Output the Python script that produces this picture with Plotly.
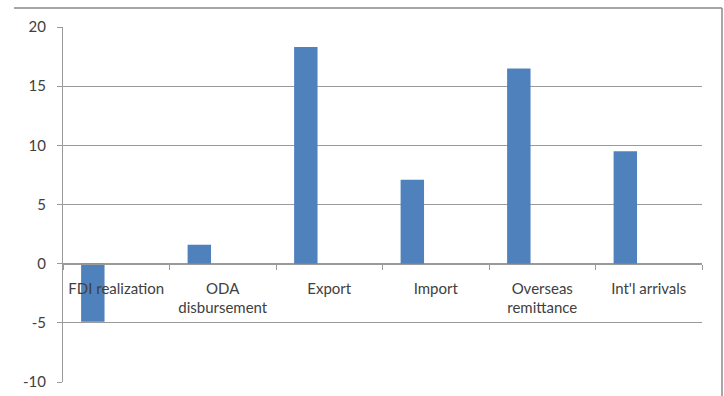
import plotly.graph_objects as go

categories = ["FDI realization", "ODA<br>disbursement", "Export", "Import",
              "Overseas<br>remittance", "Int'l arrivals"]
values = [-4.9, 1.6, 18.3, 7.1, 16.5, 9.5]
y_ticks = [-10, -5, 0, 5, 10, 15, 20]
y_tick_text = ["-10", "-5", "0", "5", "10", "15", "20"]

W, H = 724, 396
L, R, T, B = 63, 22, 27, 14
pw, ph = W - L - R, H - T - B

def px_x(x):
    return (x - L) / pw

def px_y(y):
    return (H - B - y) / ph

grid = "#9a9a9a"
txt = "#404040"
fs = 15

fig = go.Figure()
fig.add_trace(go.Bar(x=categories, y=values, marker=dict(color="#4F81BD", line=dict(width=0)),
                     width=0.22, offset=-0.33, showlegend=False))

fig.update_layout(
    width=W, height=H,
    margin=dict(l=L, r=R, t=T, b=B, autoexpand=False),
    paper_bgcolor="white", plot_bgcolor="white",
    font=dict(family="Lato, Carlito, sans-serif", size=fs, color=txt),
    xaxis=dict(type="category", anchor="free", position=(0 - (-10)) / 30,
               showline=True, linecolor=grid, linewidth=1,
               ticks="outside", tickson="boundaries", ticklen=5, tickcolor=grid,
               showgrid=False, tickfont=dict(size=fs, color=txt), tickangle=0,
               ticklabelstandoff=11, automargin=False),
    yaxis=dict(range=[-10, 20], tickvals=y_ticks, ticktext=y_tick_text,
               showline=True, linecolor=grid,
               linewidth=1, ticks="outside", ticklen=5, tickcolor=grid,
               showgrid=True, gridcolor=grid, gridwidth=1, zeroline=False,
               tickfont=dict(size=fs, color=txt), ticklabelstandoff=8,
               automargin=False),
    shapes=[
        dict(type="line", xref="paper", yref="paper", x0=px_x(14), x1=px_x(722),
             y0=px_y(8), y1=px_y(8), line=dict(color="#8a8a8a", width=1.5)),
        dict(type="line", xref="paper", yref="paper", x0=px_x(722), x1=px_x(722),
             y0=px_y(8), y1=px_y(396), line=dict(color="#8a8a8a", width=1.5)),
    ],
    bargap=0.33,
)

fig.write_html("out.html")
